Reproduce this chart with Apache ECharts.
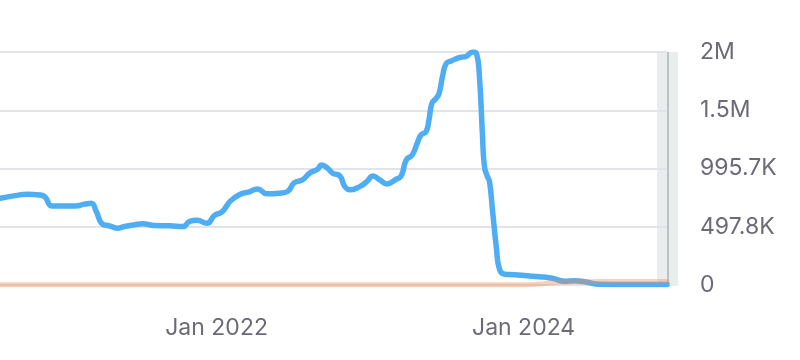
<!DOCTYPE html>
<html>
<head>
<meta charset="utf-8">
<script src="https://cdn.jsdelivr.net/npm/echarts@6/dist/echarts.min.js"></script>
<style>
html,body{margin:0;padding:0;background:#fff;}
#chart{width:800px;height:360px;}
</style>
</head>
<body>
<div id="chart"></div>
<script>
// ---- data ----
const dates = [
  '2020-08-04','2020-09-09','2020-10-07','2020-11-07','2020-11-19','2020-12-05','2020-12-24',
  '2021-01-30','2021-02-21','2021-03-09','2021-03-21','2021-04-04','2021-04-21','2021-05-10',
  '2021-05-27','2021-06-19','2021-07-09','2021-08-07','2021-09-12','2021-10-13','2021-10-29',
  '2021-11-15','2021-12-09','2021-12-27','2022-01-14','2022-02-02','2022-02-25','2022-03-20',
  '2022-04-08','2022-05-01','2022-05-30','2022-06-18','2022-07-05','2022-07-24','2022-08-10',
  '2022-08-29','2022-09-08','2022-09-22','2022-10-04','2022-10-21','2022-11-02','2022-11-14',
  '2022-12-07','2022-12-24','2023-01-08','2023-01-24','2023-02-10','2023-03-04','2023-03-16',
  '2023-03-28','2023-04-11','2023-04-23','2023-05-02','2023-05-14','2023-05-21','2023-05-28',
  '2023-06-07','2023-06-14','2023-06-22','2023-07-01','2023-07-13','2023-08-01','2023-08-18',
  '2023-09-02','2023-09-11','2023-09-18','2023-09-25','2023-09-30','2023-10-07','2023-10-12',
  '2023-10-19','2023-10-28','2023-11-05','2023-11-17','2023-12-10','2024-01-09','2024-02-08',
  '2024-03-09','2024-04-07','2024-05-01','2024-05-25','2024-06-30','2024-09-01','2024-12-07'
];
const blueValues = [
  742000,764000,776000,770000,753000,676000,676000,
  676000,691000,699000,628000,523000,506000,486000,
  500000,514000,523000,508000,506000,500000,544000,
  553000,527000,595000,625000,715000,774000,796000,
  821000,779000,785000,798000,875000,898000,955000,
  989000,1026000,998000,955000,932000,841000,813000,
  841000,883000,932000,898000,864000,904000,932000,
  1069000,1111000,1211000,1282000,1310000,1410000,1552000,
  1595000,1637000,1779000,1893000,1915000,1944000,1955000,
  1991350,1978000,1779000,1296000,1011000,926000,883000,
  642000,329000,130000,92000,88000,79000,71000,
  58000,32000,37000,28000,7000,5000,5000
];
const orangeValues = [
  3000,3000,3000,3000,3000,3000,3000,
  3000,3000,3000,3000,3000,3000,3000,
  3000,3000,3000,3000,3000,3000,3000,
  3000,3000,3000,3000,3000,3000,3000,
  3000,3000,3000,3000,3000,3000,3000,
  3000,3000,3000,3000,3000,3000,3000,
  3000,3000,3000,3000,3000,3000,3000,
  3000,3000,3000,3000,3000,3000,3000,
  3000,3000,3000,3000,3000,3000,3000,
  3000,3000,3000,3000,3000,3000,3000,
  3000,3000,3000,3000,3000,3000,8000,
  20000,26000,28000,28000,29000,29000,29000
];
const xTickDates = ['2022-01-01','2024-01-01'];
const xTickLabels = ['Jan 2022','Jan 2024'];
const yMax = 1991350;
const yTickLabels = ['0','497.8K','995.7K','1.5M','2M'];
const xMin = '2020-08-04';
const xMax = '2024-12-07';

const chart = echarts.init(document.getElementById('chart'), null, {renderer:'canvas'});
const ts = d => new Date(d + 'T00:00:00Z').getTime();
const textColor = '#6b6b78';
const fontFamily = 'Inter, "Noto Sans", sans-serif';
const xTickTs = xTickDates.map(ts);

chart.setOption({
  backgroundColor: '#ffffff',
  animation: false,
  grid: {left: 0, right: 133, top: 52, bottom: 75, containLabel: false},
  xAxis: {
    type: 'value',
    min: ts(xMin),
    max: ts(xMax),
    axisLine: {show: false},
    axisTick: {show: false},
    splitLine: {show: false},
    axisLabel: {
      customValues: xTickTs,
      formatter: function (v) {
        let best = -1, bd = Infinity;
        xTickTs.forEach((t, i) => { const d = Math.abs(t - v); if (d < bd) { bd = d; best = i; } });
        return bd < 86400000 ? xTickLabels[best] : '';
      },
      color: textColor,
      fontFamily: fontFamily,
      fontSize: 23,
      margin: 32
    }
  },
  yAxis: {
    type: 'value',
    position: 'right',
    min: 0,
    max: yMax,
    interval: yMax / 4,
    axisLine: {show: false},
    axisTick: {show: false},
    splitLine: {show: true, lineStyle: {color: '#e3e3ea', width: 2}},
    axisLabel: {
      formatter: function (v) {
        const i = Math.round(v / (yMax / 4));
        return yTickLabels[i] !== undefined ? yTickLabels[i] : '';
      },
      color: textColor,
      fontFamily: fontFamily,
      fontSize: 23,
      margin: 33,
      align: 'left'
    }
  },
  graphic: [
    {type: 'rect', z: -5, shape: {x: 657, y: 52, width: 21, height: 234}, style: {fill: '#e9eded'}},
    {type: 'rect', z: -4, shape: {x: 667, y: 52, width: 2, height: 234}, style: {fill: '#b9c3c5'}}
  ],
  series: [
    {
      type: 'line',
      data: dates.map((d, i) => [ts(d), blueValues[i]]),
      showSymbol: false,
      smooth: 0.5,
      lineStyle: {color: '#4fadf4', width: 5.5, cap: 'round', join: 'round'},
      itemStyle: {color: '#4fadf4'},
      z: 3
    },
    {
      type: 'line',
      data: dates.map((d, i) => [ts(d), orangeValues[i]]),
      showSymbol: false,
      smooth: 0.5,
      lineStyle: {color: 'rgba(240,140,85,0.4)', width: 5, cap: 'round'},
      itemStyle: {color: 'rgba(240,140,85,0.4)'},
      z: 4
    }
  ]
});
</script>
</body>
</html>
